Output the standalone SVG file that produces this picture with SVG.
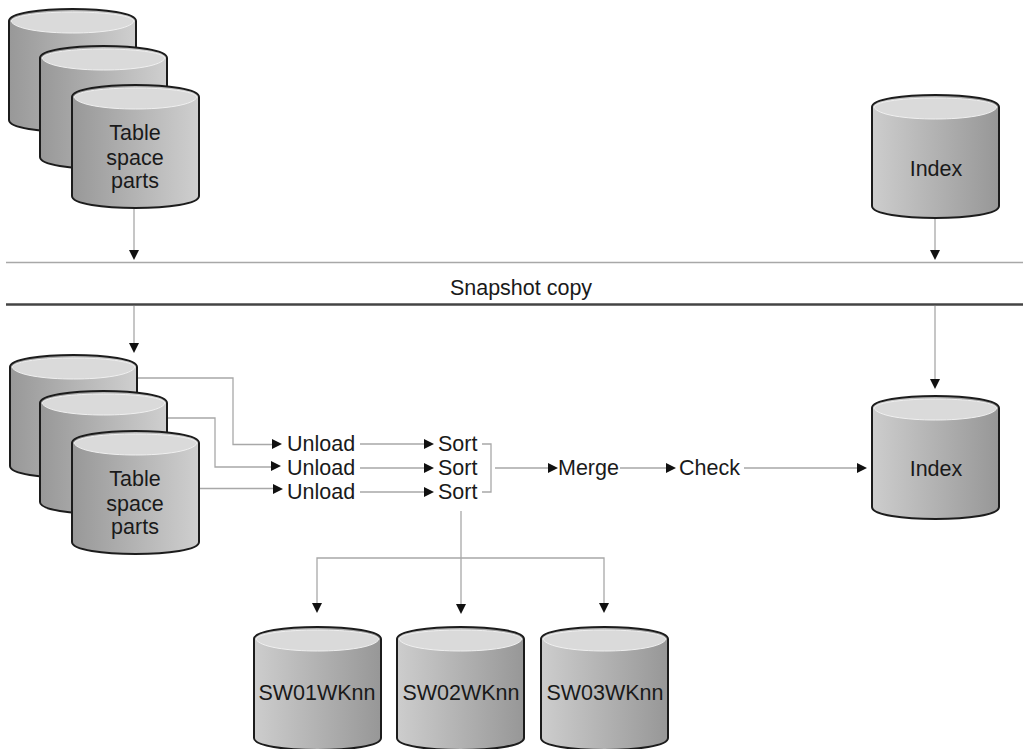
<svg xmlns="http://www.w3.org/2000/svg" xmlns:xlink="http://www.w3.org/1999/xlink" width="1023" height="749" viewBox="0 0 1023 749">
<style>
text{font-family:"Liberation Sans",Arial,sans-serif;font-size:21.5px;fill:#1a1a1a;text-anchor:middle}
.l{text-anchor:start}
.c{fill:none;stroke:#a8a8a8;stroke-width:1.3}
.body{stroke:#1c1c1c;stroke-width:2}
.top{fill:#dadada;stroke:#f0f0f0;stroke-width:1}
.a{fill:#111}
</style>
<defs>
<linearGradient id="dl"><stop offset="0" stop-color="#989898"/><stop offset="1" stop-color="#cfcfcf"/></linearGradient>
<linearGradient id="ld"><stop offset="0" stop-color="#cdcdcd"/><stop offset="1" stop-color="#979797"/></linearGradient>
<g id="cylDL"><path class="body" fill="url(#dl)" d="M0 12C0 -4 127 -4 127 12V111C127 127 0 127 0 111Z"/><path class="top" d="M2 12C7 0 120 0 125 12C119 28 8 28 2 12Z"/></g>
<g id="cylLD"><path class="body" fill="url(#ld)" d="M0 12C0 -4 127 -4 127 12V111C127 127 0 127 0 111Z"/><path class="top" d="M2 12C7 0 120 0 125 12C119 28 8 28 2 12Z"/></g>
<path id="d" class="a" d="M-5 -5H5L0 5Z"/>
<path id="r" class="a" d="M-5 -5L5 0L-5 5Z"/>
</defs>
<g id="connectors">
<path class="c" d="M134 208V252M935 218V252M134 306V346M935 306V382"/>
<path class="c" d="M6 262.500H1023"/>
<path d="M6 304.500H1023" fill="none" stroke="#444" stroke-width="2.500"/>
<path class="c" d="M137 378H233V444.500H272M167 418H215V467H271M199 488.500H273"/>
<path class="c" d="M360 444H425M360 468H425M360 492H425"/>
<path class="c" d="M482 444H491V492H482M495 468H548M620 468H667M744 468H858"/>
<path class="c" d="M461 511V610M317 610V558H604V610"/>
<use href="#d" x="134" y="255"/><use href="#d" x="935" y="255"/>
<use href="#d" x="134" y="348"/><use href="#d" x="935" y="384"/>
<use href="#r" x="277" y="444"/><use href="#r" x="276" y="466"/><use href="#r" x="278" y="489"/>
<use href="#r" x="429" y="444"/><use href="#r" x="429" y="468"/><use href="#r" x="429" y="492"/>
<use href="#r" x="553" y="468"/><use href="#r" x="671" y="468"/><use href="#r" x="862" y="468"/>
<use href="#d" x="317" y="608"/><use href="#d" x="461" y="609"/><use href="#d" x="604" y="608"/>
</g>
<g id="top-part-1"><use href="#cylDL" x="9" y="9"/></g>
<g id="top-part-2"><use href="#cylDL" x="40" y="46"/></g>
<g id="top-part-3"><use href="#cylDL" x="72" y="85"/><text x="135" y="140">Table</text><text x="135" y="165">space</text><text x="135" y="188">parts</text></g>
<g id="top-index"><use href="#cylLD" x="872" y="95"/><text x="936" y="176">Index</text></g>
<g id="snapshot"><text x="521" y="295">Snapshot copy</text></g>
<g id="bottom-part-1"><use href="#cylDL" x="10" y="355"/></g>
<g id="bottom-part-2"><use href="#cylDL" x="40" y="391"/></g>
<g id="bottom-part-3"><use href="#cylDL" x="72" y="431"/><text x="135" y="486">Table</text><text x="135" y="511">space</text><text x="135" y="534">parts</text></g>
<g id="bottom-index"><use href="#cylLD" x="872" y="396"/><text x="936" y="476">Index</text></g>
<g id="unload-1"><text class="l" x="287" y="451">Unload</text></g>
<g id="unload-2"><text class="l" x="287" y="475">Unload</text></g>
<g id="unload-3"><text class="l" x="287" y="499">Unload</text></g>
<g id="sort-1"><text class="l" x="438" y="451">Sort</text></g>
<g id="sort-2"><text class="l" x="438" y="475">Sort</text></g>
<g id="sort-3"><text class="l" x="438" y="499">Sort</text></g>
<g id="merge"><text class="l" x="558" y="475">Merge</text></g>
<g id="check"><text class="l" x="679" y="475">Check</text></g>
<g id="sw01"><use href="#cylLD" x="254" y="627"/><text x="317" y="700">SW01WKnn</text></g>
<g id="sw02"><use href="#cylLD" x="397" y="627"/><text x="461" y="700">SW02WKnn</text></g>
<g id="sw03"><use href="#cylLD" x="541" y="627"/><text x="605" y="700">SW03WKnn</text></g>
</svg>
